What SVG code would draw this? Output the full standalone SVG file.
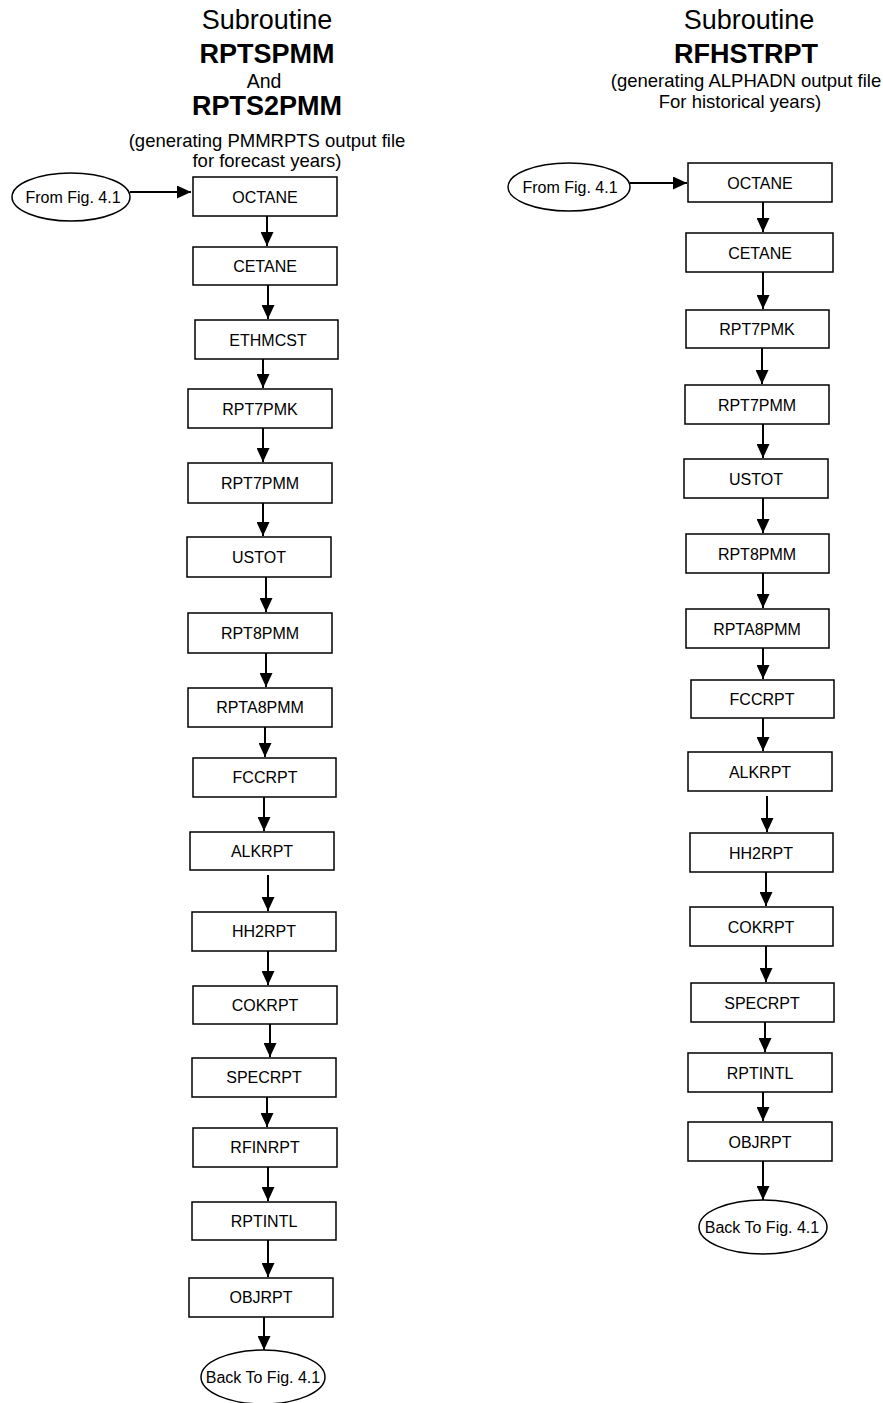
<svg xmlns="http://www.w3.org/2000/svg" width="883" height="1403" viewBox="0 0 883 1403">
<style>
  .box{fill:#fff;stroke:#000;stroke-width:1.5}
  .ell{fill:#fff;stroke:#000;stroke-width:1.5}
  .lbl{font-family:"Liberation Sans",Arial,sans-serif;font-size:16px;text-anchor:middle;fill:#000}
  .h1{font-family:"Liberation Sans",Arial,sans-serif;font-size:27px;text-anchor:middle;fill:#000}
  .hb{font-family:"Liberation Sans",Arial,sans-serif;font-size:27px;font-weight:bold;text-anchor:middle;fill:#000}
  .h2{font-family:"Liberation Sans",Arial,sans-serif;font-size:19.5px;text-anchor:middle;fill:#000}
  .h3{font-family:"Liberation Sans",Arial,sans-serif;font-size:18.5px;text-anchor:middle;fill:#000}
  .con line{stroke:#000;stroke-width:2;marker-end:url(#ah)}
</style>
<defs>
  <marker id="ah" viewBox="0 0 14 13" markerWidth="14" markerHeight="13" markerUnits="userSpaceOnUse" refX="14" refY="6.5" orient="auto">
    <path d="M0,0 L14,6.5 L0,13 z" fill="#000"/>
  </marker>
</defs>
<rect width="883" height="1403" fill="#fff"/>

<g id="header-left">
  <text class="h1" x="267" y="29">Subroutine</text>
  <text class="hb" x="267" y="63">RPTSPMM</text>
  <text class="h2" x="264" y="88">And</text>
  <text class="hb" x="267" y="115">RPTS2PMM</text>
  <text class="h3" x="267" y="147">(generating PMMRPTS output file</text>
  <text class="h3" x="267" y="167">for forecast years)</text>
</g>
<g id="header-right">
  <text class="h1" x="749" y="29">Subroutine</text>
  <text class="hb" x="746" y="63">RFHSTRPT</text>
  <text class="h3" x="746" y="87">(generating ALPHADN output file</text>
  <text class="h3" x="740" y="108">For historical years)</text>
</g>

<!-- Left column -->
<g id="L-from"><ellipse class="ell" cx="71" cy="197" rx="59" ry="24"/><text class="lbl" x="73" y="203">From Fig. 4.1</text></g>
<g id="L-octane"><rect class="box" x="193" y="177" width="144" height="39"/><text class="lbl" x="265" y="203">OCTANE</text></g>
<g id="L-cetane"><rect class="box" x="193" y="247" width="144" height="38"/><text class="lbl" x="265" y="272">CETANE</text></g>
<g id="L-ethmcst"><rect class="box" x="195" y="320" width="143" height="39"/><text class="lbl" x="268" y="346">ETHMCST</text></g>
<g id="L-rpt7pmk"><rect class="box" x="188" y="389" width="144" height="39"/><text class="lbl" x="260" y="415">RPT7PMK</text></g>
<g id="L-rpt7pmm"><rect class="box" x="188" y="463" width="144" height="40"/><text class="lbl" x="260" y="489">RPT7PMM</text></g>
<g id="L-ustot"><rect class="box" x="187" y="537" width="144" height="40"/><text class="lbl" x="259" y="563">USTOT</text></g>
<g id="L-rpt8pmm"><rect class="box" x="188" y="613" width="144" height="40"/><text class="lbl" x="260" y="639">RPT8PMM</text></g>
<g id="L-rpta8pmm"><rect class="box" x="188" y="688" width="144" height="39"/><text class="lbl" x="260" y="713">RPTA8PMM</text></g>
<g id="L-fccrpt"><rect class="box" x="193" y="758" width="143" height="39"/><text class="lbl" x="265" y="783">FCCRPT</text></g>
<g id="L-alkrpt"><rect class="box" x="190" y="832" width="144" height="38"/><text class="lbl" x="262" y="857">ALKRPT</text></g>
<g id="L-hh2rpt"><rect class="box" x="192" y="912" width="144" height="39"/><text class="lbl" x="264" y="937">HH2RPT</text></g>
<g id="L-cokrpt"><rect class="box" x="193" y="986" width="144" height="38"/><text class="lbl" x="265" y="1011">COKRPT</text></g>
<g id="L-specrpt"><rect class="box" x="192" y="1058" width="144" height="39"/><text class="lbl" x="264" y="1083">SPECRPT</text></g>
<g id="L-rfinrpt"><rect class="box" x="193" y="1128" width="144" height="39"/><text class="lbl" x="265" y="1153">RFINRPT</text></g>
<g id="L-rptintl"><rect class="box" x="192" y="1202" width="144" height="38"/><text class="lbl" x="264" y="1227">RPTINTL</text></g>
<g id="L-objrpt"><rect class="box" x="189" y="1278" width="144" height="39"/><text class="lbl" x="261" y="1303">OBJRPT</text></g>
<g id="L-back"><ellipse class="ell" cx="263" cy="1377" rx="62" ry="27"/><text class="lbl" x="263" y="1383">Back To Fig. 4.1</text></g>

<!-- Right column -->
<g id="R-from"><ellipse class="ell" cx="569" cy="187" rx="61" ry="24"/><text class="lbl" x="570" y="193">From Fig. 4.1</text></g>
<g id="R-octane"><rect class="box" x="688" y="163" width="144" height="39"/><text class="lbl" x="760" y="189">OCTANE</text></g>
<g id="R-cetane"><rect class="box" x="686" y="233" width="147" height="39"/><text class="lbl" x="760" y="259">CETANE</text></g>
<g id="R-rpt7pmk"><rect class="box" x="686" y="310" width="143" height="38"/><text class="lbl" x="757" y="335">RPT7PMK</text></g>
<g id="R-rpt7pmm"><rect class="box" x="685" y="385" width="144" height="39"/><text class="lbl" x="757" y="411">RPT7PMM</text></g>
<g id="R-ustot"><rect class="box" x="684" y="459" width="144" height="39"/><text class="lbl" x="756" y="485">USTOT</text></g>
<g id="R-rpt8pmm"><rect class="box" x="686" y="534" width="143" height="39"/><text class="lbl" x="757" y="560">RPT8PMM</text></g>
<g id="R-rpta8pmm"><rect class="box" x="686" y="609" width="143" height="39"/><text class="lbl" x="757" y="635">RPTA8PMM</text></g>
<g id="R-fccrpt"><rect class="box" x="691" y="680" width="143" height="38"/><text class="lbl" x="762" y="705">FCCRPT</text></g>
<g id="R-alkrpt"><rect class="box" x="688" y="752" width="144" height="39"/><text class="lbl" x="760" y="778">ALKRPT</text></g>
<g id="R-hh2rpt"><rect class="box" x="690" y="833" width="143" height="39"/><text class="lbl" x="761" y="859">HH2RPT</text></g>
<g id="R-cokrpt"><rect class="box" x="690" y="907" width="143" height="39"/><text class="lbl" x="761" y="933">COKRPT</text></g>
<g id="R-specrpt"><rect class="box" x="691" y="983" width="143" height="39"/><text class="lbl" x="762" y="1009">SPECRPT</text></g>
<g id="R-rptintl"><rect class="box" x="688" y="1053" width="144" height="39"/><text class="lbl" x="760" y="1079">RPTINTL</text></g>
<g id="R-objrpt"><rect class="box" x="688" y="1122" width="144" height="39"/><text class="lbl" x="760" y="1148">OBJRPT</text></g>
<g id="R-back"><ellipse class="ell" cx="763" cy="1227" rx="64" ry="27"/><text class="lbl" x="762" y="1233">Back To Fig. 4.1</text></g>

<g id="connectors" class="con">
  <line x1="130" y1="192" x2="191" y2="192"/>
  <line x1="267" y1="216" x2="267" y2="246"/>
  <line x1="268" y1="285" x2="268" y2="319"/>
  <line x1="263" y1="359" x2="263" y2="388"/>
  <line x1="263" y1="428" x2="263" y2="462"/>
  <line x1="263" y1="503" x2="263" y2="536"/>
  <line x1="266" y1="577" x2="266" y2="612"/>
  <line x1="266" y1="653" x2="266" y2="687"/>
  <line x1="265" y1="727" x2="265" y2="757"/>
  <line x1="264" y1="797" x2="264" y2="831"/>
  <line x1="268" y1="875" x2="268" y2="911"/>
  <line x1="268" y1="951" x2="268" y2="985"/>
  <line x1="270" y1="1024" x2="270" y2="1057"/>
  <line x1="267" y1="1097" x2="267" y2="1127"/>
  <line x1="268" y1="1167" x2="268" y2="1201"/>
  <line x1="268" y1="1240" x2="268" y2="1277"/>
  <line x1="264" y1="1317" x2="264" y2="1350"/>

  <line x1="630" y1="183" x2="687" y2="183"/>
  <line x1="763" y1="202" x2="763" y2="232"/>
  <line x1="763" y1="272" x2="763" y2="309"/>
  <line x1="762" y1="348" x2="762" y2="384"/>
  <line x1="763" y1="424" x2="763" y2="458"/>
  <line x1="763" y1="498" x2="763" y2="533"/>
  <line x1="763" y1="573" x2="763" y2="608"/>
  <line x1="763" y1="648" x2="763" y2="679"/>
  <line x1="763" y1="718" x2="763" y2="751"/>
  <line x1="767" y1="796" x2="767" y2="832"/>
  <line x1="766" y1="872" x2="766" y2="906"/>
  <line x1="766" y1="946" x2="766" y2="982"/>
  <line x1="765" y1="1022" x2="765" y2="1052"/>
  <line x1="763" y1="1092" x2="763" y2="1121"/>
  <line x1="763" y1="1161" x2="763" y2="1200"/>
</g>
</svg>
